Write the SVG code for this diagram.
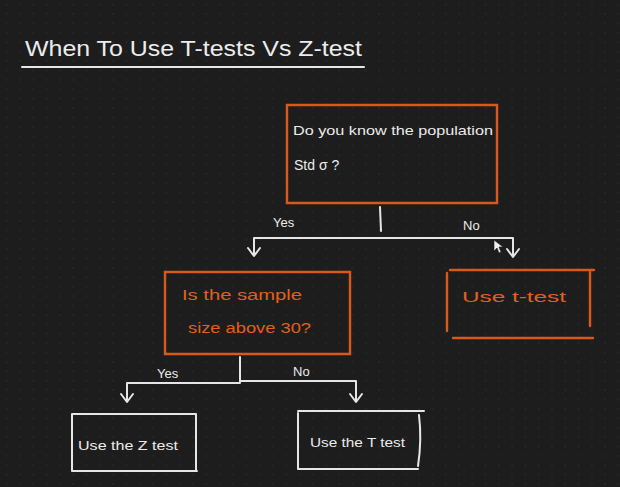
<svg xmlns="http://www.w3.org/2000/svg" width="620" height="487" viewBox="0 0 620 487">
<defs>
<pattern id="dots" width="13.3" height="9.4" patternUnits="userSpaceOnUse">
<rect x="6" y="4" width="1.4" height="1.4" fill="#2c2c2c"/>
</pattern>
<style>
.w{stroke:#e6e6e6;stroke-width:2;fill:none;stroke-linecap:round;stroke-linejoin:round}
.o{stroke:#d9581b;stroke-width:2.4;fill:none;stroke-linecap:round}
.tw{fill:#ececec;font-family:"Liberation Sans","Noto Sans",sans-serif}
.to{fill:#e0601d;font-family:"Liberation Sans","Noto Sans",sans-serif}
</style>
</defs>
<rect width="620" height="487" fill="#1d1d1d"/>
<rect width="620" height="487" fill="url(#dots)"/>

<g id="title">
<text class="tw" x="25" y="56" font-size="22" textLength="337" lengthAdjust="spacingAndGlyphs">When To Use T-tests Vs Z-test</text>
<line class="w" x1="22" y1="67" x2="364" y2="67"/>
</g>

<g id="q1">
<path class="o" d="M287 105 H497 V203 H287 Z"/>
<text class="tw" x="293" y="135" font-size="13.5" textLength="200" lengthAdjust="spacingAndGlyphs">Do you know the population</text>
<text class="tw" x="294" y="170" font-size="14">Std  σ ?</text>
</g>

<g id="q2">
<path class="o" d="M165 272 H350 V354 H165 Z"/>
<text class="to" x="182" y="300" font-size="14" textLength="120" lengthAdjust="spacingAndGlyphs">Is the sample</text>
<text class="to" x="188" y="333" font-size="14" textLength="123" lengthAdjust="spacingAndGlyphs">size above 30?</text>
</g>

<g id="ttest1">
<line class="o" x1="450" y1="270" x2="594" y2="270"/>
<line class="o" x1="447" y1="273" x2="447" y2="331"/>
<line class="o" x1="590" y1="272" x2="590" y2="326"/>
<line class="o" x1="453" y1="338" x2="593" y2="338"/>
<text class="to" x="462" y="302" font-size="14" textLength="104" lengthAdjust="spacingAndGlyphs">Use t-test</text>
</g>

<g id="ztest">
<path class="w" d="M72 414 H196 V470 M72 414 V471 H197"/>
<text class="tw" x="78" y="450" font-size="13.5" textLength="100" lengthAdjust="spacingAndGlyphs">Use the Z test</text>
</g>

<g id="ttest2">
<path class="w" d="M298 411 H424 M298 413 V469 M298 469 H418 M419 415 Q422 440 418 466"/>
<text class="tw" x="310" y="447" font-size="13.5" textLength="95" lengthAdjust="spacingAndGlyphs">Use the T test</text>
</g>

<g id="connectors">
<path class="w" d="M380 207 L381 231"/>
<path class="w" d="M254 255 V238 H513 V256"/>
<path class="w" d="M248 248 L254 256 L260 248"/>
<path class="w" d="M507 249 L513 257 L519 249"/>
<text class="tw" x="273" y="227" font-size="13">Yes</text>
<text class="tw" x="463" y="230" font-size="13">No</text>
<path class="w" d="M240 357 V382 M127 401 V383 H240 M240 381 H356 V401"/>
<path class="w" d="M121 394 L127 402 L133 394"/>
<path class="w" d="M350 394 L356 402 L362 394"/>
<text class="tw" x="157" y="378" font-size="13">Yes</text>
<text class="tw" x="293" y="376" font-size="13">No</text>
</g>

<g id="cursor">
<path d="M494 240 L494 251 L497 248 L499 253 L501 252 L499 247 L503 247 Z" fill="#f0f0f0" stroke="#1d1d1d" stroke-width="0.6"/>
</g>
</svg>
